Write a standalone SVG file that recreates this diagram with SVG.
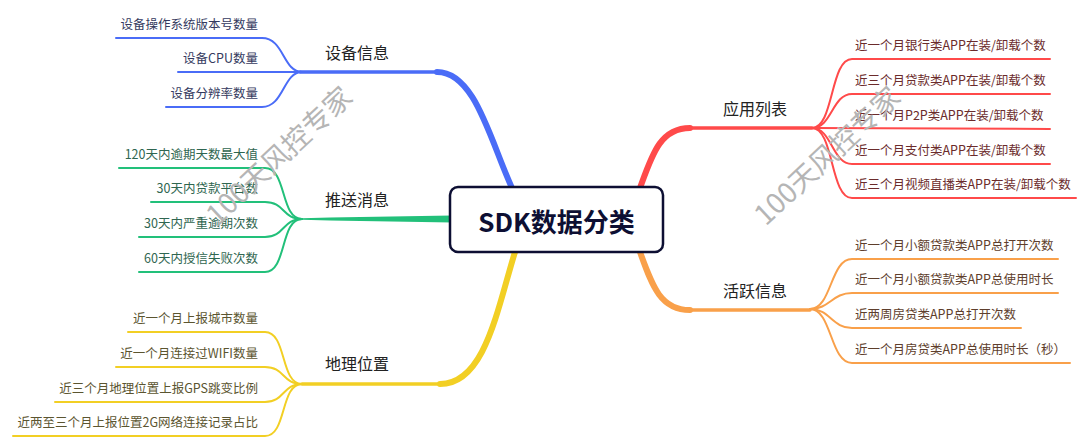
<svg xmlns="http://www.w3.org/2000/svg" width="1080" height="446" viewBox="0 0 1080 446">
<style>
text{font-family:"Noto Sans CJK SC","Liberation Sans",sans-serif}
.sub{font-size:12.5px}
.lbl{font-size:16px;fill:#222}
.l{text-anchor:end}
.b{fill:none;stroke-linecap:round}
.blue{stroke:#4a6cf7}
.green{stroke:#22c07a}
.yellow{stroke:#f2cf24}
.red{stroke:#ff4a4a}
.orange{stroke:#f9a04a}
.s{stroke-width:2}
.wm{font-size:28px;fill:#b5b5b5;text-anchor:middle}
</style>
<rect width="1080" height="446" fill="#fff"/>
<g id="connectors">
  <!-- main branches -->
  <path class="b blue" stroke-width="6" d="M512,188 C490,140 475,72 437,72"/>
  <path class="b blue" stroke-width="3.5" d="M440,72 L300,72"/>
  <path fill="#22c07a" d="M452,215.5 L330,217.5 L302,218.3 L302,219.7 L330,220.5 L452,222.5 Z"/>
  <path class="b yellow" stroke-width="6" d="M515,252 C497,310 485,384 440,384"/>
  <path class="b yellow" stroke-width="3.5" d="M443,384 L302,384"/>
  <path class="b red" stroke-width="6" d="M640,188 C652,155 660,128 690,128"/>
  <path class="b red" stroke-width="3.5" d="M687,128 L812,128"/>
  <path class="b orange" stroke-width="6" d="M640,252 C652,285 660,310 690,310"/>
  <path class="b orange" stroke-width="3.5" d="M687,310 L810,310"/>
  <!-- blue children -->
  <path class="b blue s" d="M302,72 C283,72 284,38 262,38 L116,38"/>
  <path class="b blue s" d="M302,72 L178,72"/>
  <path class="b blue s" d="M302,72 C283,72 284,107 262,107 L166,107"/>
  <!-- green children -->
  <path class="b green s" d="M302,219 C280,219 287,168 265,168 L119,168"/>
  <path class="b green s" d="M302,219 C282,219 285,202 265,202 L151,202"/>
  <path class="b green s" d="M302,219 C282,219 285,237 265,237 L139,237"/>
  <path class="b green s" d="M302,219 C280,219 287,272 265,272 L139,272"/>
  <!-- yellow children -->
  <path class="b yellow s" d="M302,384 C280,384 287,332 265,332 L128,332"/>
  <path class="b yellow s" d="M302,384 C282,384 285,367 265,367 L116,367"/>
  <path class="b yellow s" d="M302,384 C282,384 285,402 265,402 L55,402"/>
  <path class="b yellow s" d="M302,384 C280,384 287,436 265,436 L13,436"/>
  <!-- red children -->
  <path class="b red s" d="M812,128 C834,128 830,59 852,59 L1050,59"/>
  <path class="b red s" d="M812,128 C832,128 832,94 852,94 L1050,94"/>
  <path class="b red s" d="M812,128 L1050,129"/>
  <path class="b red s" d="M812,128 C832,128 832,164 852,164 L1050,164"/>
  <path class="b red s" d="M812,128 C834,128 830,198 852,198 L1076,198"/>
  <!-- orange children -->
  <path class="b orange s" d="M810,309 C832,309 830,259 852,259 L1058,259"/>
  <path class="b orange s" d="M810,309 C830,309 832,293 852,293 L1058,293"/>
  <path class="b orange s" d="M810,309 C830,309 832,328 852,328 L1021,328"/>
  <path class="b orange s" d="M810,309 C832,309 830,363 852,363 L1070,363"/>
</g>
<g id="center">
  <rect x="450" y="187" width="213" height="65" rx="8" fill="#fff" stroke="#0d0f33" stroke-width="2.5"/>
  <text x="556.5" y="232" text-anchor="middle" font-size="26" font-weight="bold" fill="#0d0f33">SDK数据分类</text>
</g>
<g id="n-device">
  <text class="lbl" x="325" y="59">设备信息</text>
  <g class="sub l" fill="#34395e">
    <text x="258" y="29">设备操作系统版本号数量</text>
    <text x="258" y="63">设备CPU数量</text>
    <text x="258" y="98">设备分辨率数量</text>
  </g>
</g>
<g id="n-push">
  <text class="lbl" x="325" y="206">推送消息</text>
  <g class="sub l" fill="#2f6650">
    <text x="258" y="159">120天内逾期天数最大值</text>
    <text x="258" y="193">30天内贷款平台数</text>
    <text x="258" y="228">30天内严重逾期次数</text>
    <text x="258" y="263">60天内授信失败次数</text>
  </g>
</g>
<g id="n-geo">
  <text class="lbl" x="325" y="370">地理位置</text>
  <g class="sub l" fill="#5b5530">
    <text x="258" y="323">近一个月上报城市数量</text>
    <text x="258" y="358">近一个月连接过WIFI数量</text>
    <text x="258" y="393">近三个月地理位置上报GPS跳变比例</text>
    <text x="258" y="427">近两至三个月上报位置2G网络连接记录占比</text>
  </g>
</g>
<g id="n-apps">
  <text class="lbl" x="723" y="115">应用列表</text>
  <g class="sub" fill="#6b2b2b">
    <text x="855" y="50">近一个月银行类APP在装/卸载个数</text>
    <text x="855" y="85">近三个月贷款类APP在装/卸载个数</text>
    <text x="855" y="120">近一个月P2P类APP在装/卸载个数</text>
    <text x="855" y="155">近一个月支付类APP在装/卸载个数</text>
    <text x="855" y="189">近三个月视频直播类APP在装/卸载个数</text>
  </g>
</g>
<g id="n-active">
  <text class="lbl" x="723" y="297">活跃信息</text>
  <g class="sub" fill="#5e3e2c">
    <text x="855" y="250">近一个月小额贷款类APP总打开次数</text>
    <text x="855" y="284">近一个月小额贷款类APP总使用时长</text>
    <text x="855" y="319">近两周房贷类APP总打开次数</text>
    <text x="855" y="354">近一个月房贷类APP总使用时长（秒）</text>
  </g>
</g>
<g id="watermarks">
  <text class="wm" transform="translate(286,163) rotate(-43)">100天风控专家</text>
  <text class="wm" transform="translate(834,163) rotate(-43)">100天风控专家</text>
</g>
</svg>
